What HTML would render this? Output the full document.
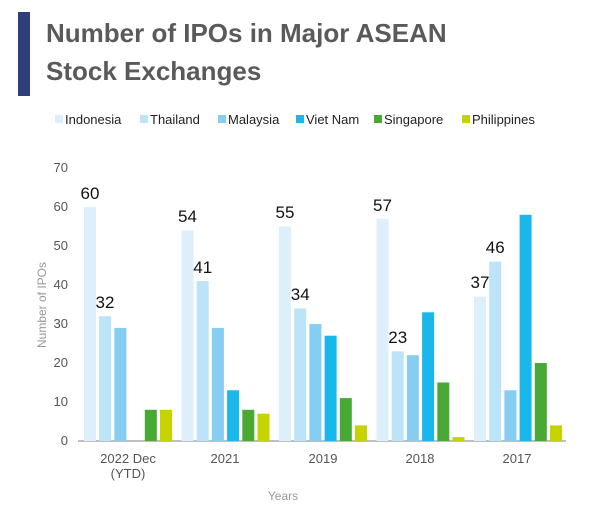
<!DOCTYPE html>
<html><head><meta charset="utf-8"><style>
html,body{margin:0;padding:0;background:#fff;}
svg{display:block;font-family:"Liberation Sans",Arial,sans-serif;}
</style></head><body>
<svg width="600" height="514" viewBox="0 0 600 514" xmlns="http://www.w3.org/2000/svg">
<rect x="18" y="12" width="12" height="84" fill="#2e3f7c"/>
<text x="46" y="42" font-size="26" font-weight="bold" fill="#5a5a5a">Number of IPOs in Major ASEAN</text>
<text x="46" y="80" font-size="26" font-weight="bold" fill="#5a5a5a">Stock Exchanges</text>
<g font-size="13" fill="#222">
<rect x="55" y="115" width="8" height="8" fill="#deeffc"/><text x="65" y="124">Indonesia</text>
<rect x="140" y="115" width="8" height="8" fill="#bde3f8"/><text x="150" y="124">Thailand</text>
<rect x="218" y="115" width="8" height="8" fill="#86cdf2"/><text x="228" y="124">Malaysia</text>
<rect x="296" y="115" width="8" height="8" fill="#1ab8ea"/><text x="306" y="124">Viet Nam</text>
<rect x="374" y="115" width="8" height="8" fill="#4aa834"/><text x="384" y="124">Singapore</text>
<rect x="462" y="115" width="8" height="8" fill="#c5d300"/><text x="472" y="124">Philippines</text>
</g>
<g font-size="13" fill="#555" text-anchor="end">
<text x="68" y="445">0</text><text x="68" y="406">10</text><text x="68" y="367">20</text><text x="68" y="328">30</text><text x="68" y="289">40</text><text x="68" y="250">50</text><text x="68" y="211">60</text><text x="68" y="172">70</text>
</g>
<text transform="translate(46,305) rotate(-90)" font-size="12" fill="#999" text-anchor="middle">Number of IPOs</text>
<g id="bars"></g>
<line x1="78" y1="441" x2="566" y2="441" stroke="#aaa" stroke-width="1.5"/>
<g font-size="13" fill="#555" text-anchor="middle">
<text x="128" y="463">2022 Dec</text><text x="128" y="478">(YTD)</text>
<text x="225" y="463">2021</text><text x="323" y="463">2019</text><text x="420" y="463">2018</text><text x="517" y="463">2017</text>
</g>
<text x="283" y="500" font-size="12" fill="#999" text-anchor="middle">Years</text>
<g fill="#deeffc">
<rect x="84" y="207" width="12" height="234"/><rect x="181.5" y="230.4" width="12" height="210.6"/><rect x="279" y="226.5" width="12" height="214.5"/><rect x="376.5" y="218.7" width="12" height="222.3"/><rect x="474" y="296.7" width="12" height="144.3"/>
</g>
<g fill="#bde3f8">
<rect x="99.2" y="316.2" width="12" height="124.8"/><rect x="196.7" y="281.1" width="12" height="159.9"/><rect x="294.2" y="308.4" width="12" height="132.6"/><rect x="391.7" y="351.3" width="12" height="89.7"/><rect x="489.2" y="261.6" width="12" height="179.4"/>
</g>
<g fill="#86cdf2">
<rect x="114.4" y="327.9" width="12" height="113.1"/><rect x="211.9" y="327.9" width="12" height="113.1"/><rect x="309.4" y="324" width="12" height="117"/><rect x="406.9" y="355.2" width="12" height="85.8"/><rect x="504.4" y="390.3" width="12" height="50.7"/>
</g>
<g fill="#1ab8ea">
<rect x="227.1" y="390.3" width="12" height="50.7"/><rect x="324.6" y="335.7" width="12" height="105.3"/><rect x="422.1" y="312.3" width="12" height="128.7"/><rect x="519.6" y="214.8" width="12" height="226.2"/>
</g>
<g fill="#4aa834">
<rect x="144.8" y="409.8" width="12" height="31.2"/><rect x="242.3" y="409.8" width="12" height="31.2"/><rect x="339.8" y="398.1" width="12" height="42.9"/><rect x="437.3" y="382.5" width="12" height="58.5"/><rect x="534.8" y="363" width="12" height="78"/>
</g>
<g fill="#c5d300">
<rect x="160" y="409.8" width="12" height="31.2"/><rect x="257.5" y="413.7" width="12" height="27.3"/><rect x="355" y="425.4" width="12" height="15.6"/><rect x="452.5" y="437.1" width="12" height="3.9"/><rect x="550" y="425.4" width="12" height="15.6"/>
</g>
<g font-size="17" fill="#111" text-anchor="middle">
<text x="90" y="199">60</text><text x="105" y="308">32</text>
<text x="187.5" y="222">54</text><text x="202.7" y="273">41</text>
<text x="285" y="218">55</text><text x="300.2" y="300">34</text>
<text x="382.5" y="211">57</text><text x="397.7" y="343">23</text>
<text x="480" y="288">37</text><text x="495.2" y="253">46</text>
</g>
</svg>
</body></html>
